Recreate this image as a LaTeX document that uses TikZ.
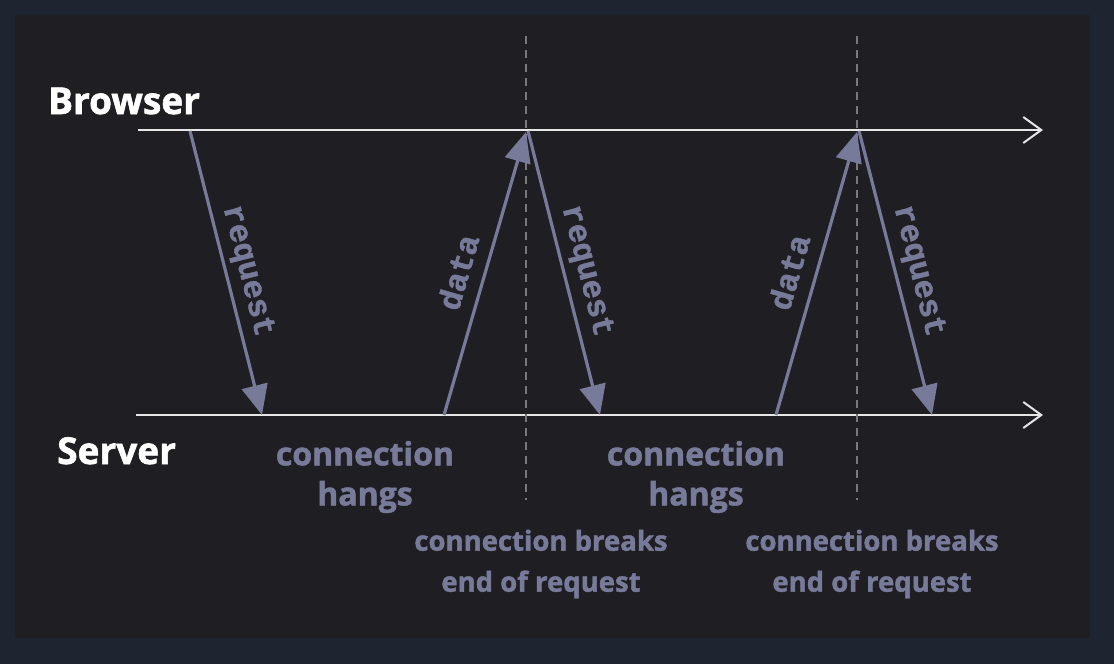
\documentclass[tikz,border=0pt]{standalone}
\usepackage{fontspec}
\setmainfont{Open Sans}[BoldFeatures={FakeBold=1.6}]
\newfontfamily\monof{Liberation Mono}[BoldFeatures={FakeBold=1.4}]
\usetikzlibrary{arrows.meta}
\definecolor{outerbg}{HTML}{1E2430}
\definecolor{innerbg}{HTML}{1F1F23}
\definecolor{msg}{HTML}{777A99}
\definecolor{axis}{HTML}{E6E6E6}
\definecolor{dash}{HTML}{7A7A7A}
\tikzset{
  timeline/.style={draw=axis, line width=2pt, -{Straight Barb[length=18pt,width=26pt,line width=2pt]}},
  msgarrow/.style={draw=msg, line width=3.2pt, -{Triangle[length=30pt,width=26pt]}},
  breakline/.style={draw=dash, line width=1.5pt, dash pattern=on 8pt off 6pt},
  actor/.style={text=white, font=\fontsize{37}{40}\selectfont\bfseries, inner sep=0pt},
  msglabel/.style={text=msg, font=\fontsize{32}{32}\selectfont\monof\bfseries, inner sep=0pt},
  note/.style={text=msg, font=\fontsize{32}{40}\selectfont\bfseries, align=center, inner sep=0pt},
  smallnote/.style={text=msg, font=\fontsize{27.5}{41}\selectfont\bfseries, align=center, inner sep=0pt}
}
\begin{document}
\begin{tikzpicture}[x=1pt,y=-1pt]
\useasboundingbox (0,0) rectangle (1114,664);
\fill[outerbg] (0,0) rectangle (1114,664);
\fill[innerbg] (15,15) rectangle (1090,638);

% timelines
\coordinate (bs) at (138,130); \coordinate (be) at (1043,130);
\coordinate (ss) at (136,415); \coordinate (se) at (1043,415);
\draw[timeline] (bs) -- (be);
\draw[timeline] (ss) -- (se);

\node[actor, anchor=base west] (browser) at (48,114) {Browser};
\node[actor, anchor=base west] (server) at (57,464) {Server};

% dashed break lines
\coordinate (d1t) at (526,36); \coordinate (d1b) at (526,500);
\coordinate (d2t) at (857,36); \coordinate (d2b) at (857,500);
\draw[breakline] (d1t) -- (d1b);
\draw[breakline] (d2t) -- (d2b);

% message arrows
\coordinate (r1s) at (190,131); \coordinate (r1e) at (262,415);
\coordinate (a1s) at (444,415); \coordinate (a1e) at (526,132);
\coordinate (r2s) at (528,131); \coordinate (r2e) at (600,415);
\coordinate (a2s) at (776,415); \coordinate (a2e) at (857,132);
\coordinate (r3s) at (859,131); \coordinate (r3e) at (932,415);
\draw[msgarrow] (r1s) -- (r1e);
\draw[msgarrow] (a1s) -- (a1e);
\draw[msgarrow] (r2s) -- (r2e);
\draw[msgarrow] (a2s) -- (a2e);
\draw[msgarrow] (r3s) -- (r3e);

\node[msglabel, rotate=-75.8] (lr1) at (247,271) {request};
\node[msglabel, rotate=73.8] (la1) at (458,272) {data};
\node[msglabel, rotate=-75.8] (lr2) at (586,271) {request};
\node[msglabel, rotate=73.8] (la2) at (789,272) {data};
\node[msglabel, rotate=-75.8] (lr3) at (918,271) {request};

\node[note] (h1) at (365,477) {connection\\hangs};
\node[note] (h2) at (696,477) {connection\\hangs};
\node[smallnote] (e1) at (541,564) {connection breaks\\end of request};
\node[smallnote] (e2) at (872,564) {connection breaks\\end of request};
\end{tikzpicture}
\end{document}
